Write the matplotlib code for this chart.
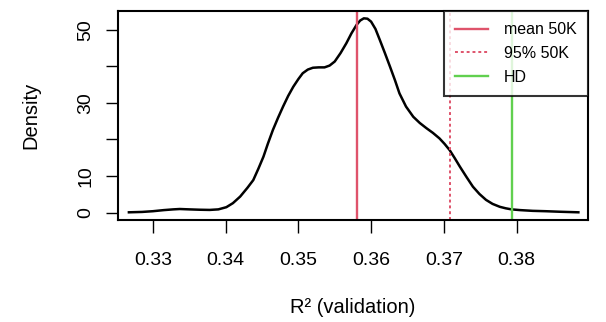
import matplotlib
matplotlib.use("Agg")
import matplotlib.pyplot as plt

# density curve
r2 = [0.3267, 0.3285, 0.3300, 0.3315, 0.3328, 0.3337, 0.3350, 0.3365, 0.3378,
      0.3390, 0.3401, 0.3410, 0.3420, 0.3430, 0.3438, 0.3445, 0.3452, 0.3458,
      0.3465, 0.3472, 0.3479, 0.3486, 0.3493, 0.3500, 0.3506, 0.3513, 0.3520,
      0.3528, 0.3536, 0.3543, 0.3550, 0.3558, 0.3566, 0.3573, 0.3580, 0.3585,
      0.3590, 0.3595, 0.3600, 0.3606, 0.3612, 0.3619, 0.3626, 0.3633, 0.3639,
      0.3648, 0.3658, 0.3667, 0.3676, 0.3685, 0.3694, 0.3701, 0.3708, 0.3715,
      0.3722, 0.3731, 0.3740, 0.3749, 0.3758, 0.3767, 0.3777, 0.3785, 0.3793,
      0.3805, 0.3822, 0.3840, 0.3860, 0.3885]
density = [0.1, 0.2, 0.4, 0.7, 0.9, 1.0, 0.9, 0.8, 0.75,
           0.9, 1.5, 2.6, 4.4, 6.8, 8.9, 12.0, 15.3, 18.8,
           22.6, 25.9, 29.0, 31.9, 34.4, 36.5, 38.1, 39.1, 39.6,
           39.7, 39.7, 40.2, 41.3, 43.6, 46.3, 49.0, 51.3, 52.5,
           53.1, 53.0, 52.2, 50.2, 47.2, 43.6, 39.9, 36.1, 32.6,
           29.0, 26.2, 24.5, 23.1, 21.8, 20.3, 18.8, 17.1, 14.9,
           12.6, 9.8, 7.1, 5.1, 3.5, 2.4, 1.6, 1.2, 0.9,
           0.7, 0.5, 0.4, 0.25, 0.1]

mean_50k = 0.3581
q95_50k = 0.3708
hd = 0.3794

xticks = [0.33, 0.34, 0.35, 0.36, 0.37, 0.38]
yticks = [0, 10, 20, 30, 40, 50]
ylabels = ["0", "10", "", "30", "", "50"]

plt.rcParams['font.family'] = ['Liberation Sans', 'DejaVu Sans']

fig = plt.figure(figsize=(6.06, 3.22), dpi=100)
ax = fig.add_axes([0.1947, 0.3168, 0.7753, 0.649])

ax.plot(r2, density, color='black', lw=1.8)
ax.axvline(mean_50k, color='#DF536B', lw=1.7, label='mean 50K')
ax.axvline(q95_50k, color='#DF536B', lw=1.4, ls=(0, (1.5, 1.5)), label='95% 50K')
ax.axvline(hd, color='#61D04F', lw=1.7, label='HD')

ax.set_xlim(0.3252, 0.3898)
ax.set_ylim(-2.0, 55.1)
ax.set_xticks(xticks)
ax.set_xticklabels([f"{t:.2f}" for t in xticks])
ax.set_yticks(yticks)
ax.set_yticklabels(ylabels, rotation=90, va='center')
ax.tick_params(direction='out', length=9, width=1, labelsize=14)
ax.tick_params(axis='x', pad=14)
ax.tick_params(axis='y', pad=8)

for s in ax.spines.values():
    s.set_linewidth(1.5)

ax.set_ylabel('Density', fontsize=14.5, labelpad=27)
ax.set_xlabel('R² (validation)', fontsize=14.5, labelpad=21)

leg = ax.legend(loc='upper right', fontsize=11.5, frameon=True, fancybox=False,
                borderaxespad=0, handlelength=2.05, labelspacing=0.55,
                borderpad=0.7, handletextpad=1.0)
leg.get_frame().set_edgecolor('black')
leg.get_frame().set_linewidth(1.5)

fig.savefig('out.png', dpi=100)
